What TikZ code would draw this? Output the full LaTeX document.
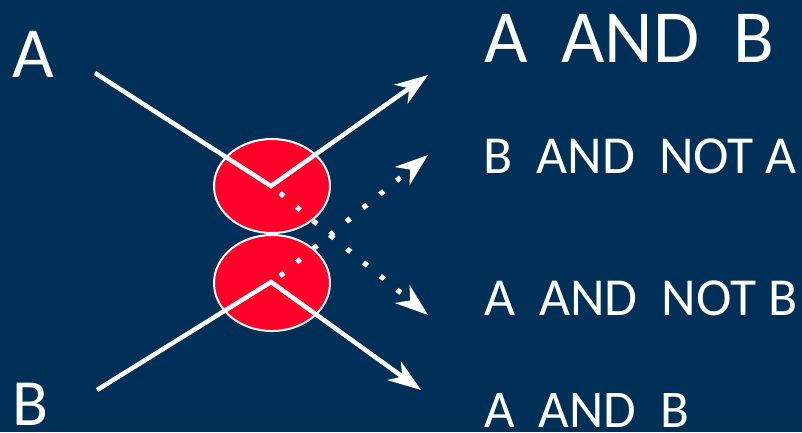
\documentclass[tikz,border=0pt]{standalone}
\usepackage{fontspec}
\setmainfont{Carlito}
\usetikzlibrary{arrows.meta,shapes.geometric}
\definecolor{bgnavy}{RGB}{0,48,87}
\definecolor{ballred}{RGB}{255,0,40}
\tikzset{
  ball/.style={draw=white, line width=2pt, fill=ballred, ellipse, inner sep=0pt},
  wline/.style={draw=white, line width=4.5pt, line join=miter},
  warrow/.style={-{Stealth[length=33pt, width=23pt, inset=10pt]}},
  dotline/.style={draw=white, line width=5pt, dash pattern=on 5pt off 16.6pt},
  lbl/.style={text=white, inner sep=0pt, anchor=base west},
}
\begin{document}
\begin{tikzpicture}[x=1pt, y=-1pt]
\fill[bgnavy] (0,0) rectangle (802,432);
\useasboundingbox (0,0) rectangle (802,432);
% balls
\node[ball, minimum width=116pt, minimum height=94pt] (ta) at (272,186) {};
\node[ball, minimum width=116pt, minimum height=96pt] (tb) at (272,283) {};
% coordinates
\coordinate (a0) at (95,73);
\coordinate (av) at (271,186);
\coordinate (at) at (428,75);
\coordinate (b0) at (97,390);
\coordinate (bv) at (271,282);
\coordinate (bt) at (421,390);
\coordinate (ds1) at (280,193);
\coordinate (ds2) at (280,276);
\coordinate (dx) at (330,235);
\coordinate (dt1) at (428,155);
\coordinate (dt2) at (428,315);
% solid lines
\draw[wline, warrow] (a0) -- (av) -- (at);
\draw[wline, warrow] (b0) -- (bv) -- (bt);
% dotted lines
\draw[dotline, warrow] (ds1) -- (dx) -- (dt1);
\draw[dotline, warrow] (ds2) -- (dx) -- (dt2);
% labels
\node[lbl, font=\fontsize{72}{80}\selectfont] (la) at (12,77) {A};
\node[lbl, font=\fontsize{66}{74}\selectfont] (lb) at (12,425) {B};
\node[lbl, font=\fontsize{75}{84}\selectfont] (r1) at (484,62) {A\ \ AND\ \ B};
\node[lbl, font=\fontsize{53.5}{60}\selectfont] (r2) at (483,173) {B\ \ AND\ \ NOT A};
\node[lbl, font=\fontsize{53.5}{60}\selectfont] (r3) at (484,315) {A\ \ AND\ \ NOT B};
\node[lbl, font=\fontsize{53}{60}\selectfont] (r4) at (484,427) {A\ \ AND\ \ B};
\end{tikzpicture}
\end{document}
